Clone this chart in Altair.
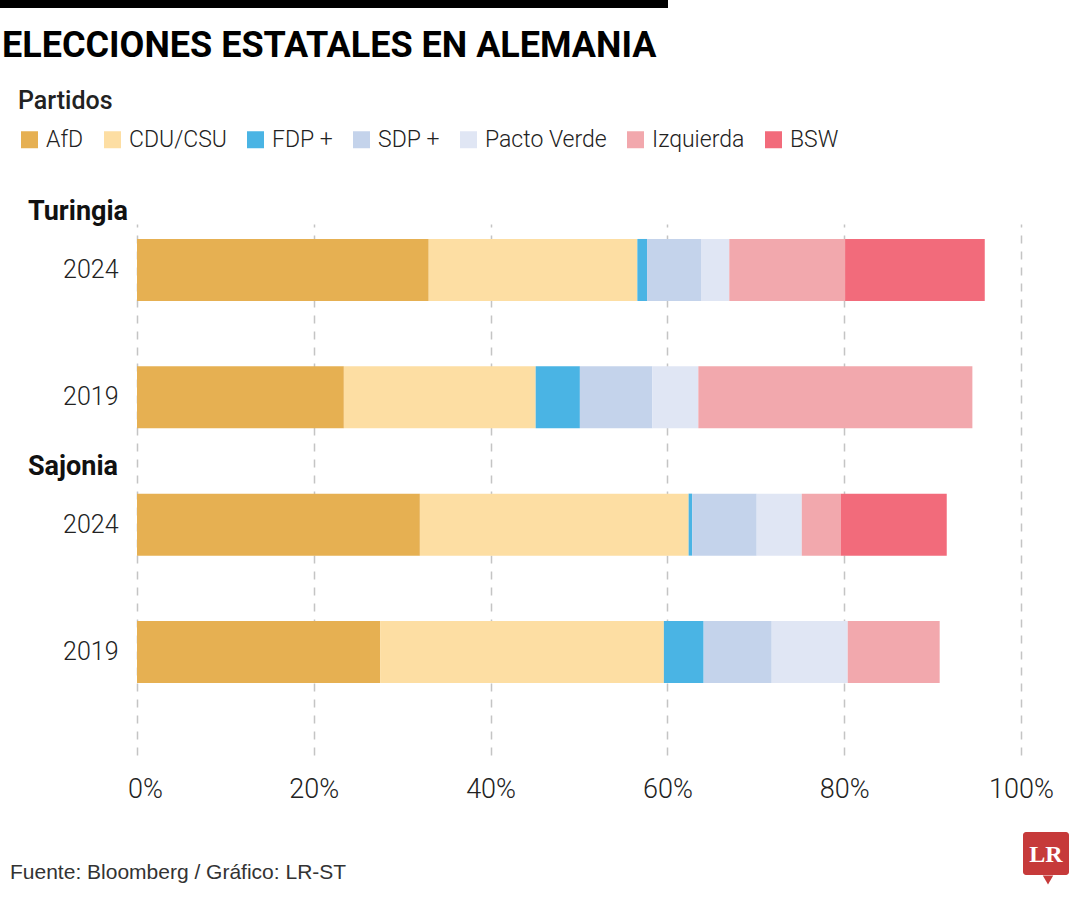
import altair as alt
import pandas as pd

# ---------------- data ----------------
partidos = ["AfD", "CDU/CSU", "FDP +", "SDP +", "Pacto Verde", "Izquierda", "BSW"]
colores = ["#E6B052", "#FDDEA3", "#4AB4E4", "#C4D3EB", "#E0E6F4", "#F2A8AD", "#F26B7B"]
filas = ["Turingia 2024", "Turingia 2019", "Sajonia 2024", "Sajonia 2019"]
turingia_2024 = [33.0, 23.6, 1.1, 6.1, 3.2, 13.1, 15.8]
turingia_2019 = [23.4, 21.7, 5.0, 8.2, 5.2, 31.0, 0.0]
sajonia_2024 = [32.0, 30.4, 0.4, 7.3, 5.1, 4.4, 12.0]
sajonia_2019 = [27.5, 32.1, 4.5, 7.7, 8.6, 10.4, 0.0]
grupos = ["Turingia", "Sajonia"]
grupo_filas = ["Turingia 2024", "Sajonia 2024"]
ticks_x = [0, 20, 40, 60, 80, 100]
titulo = "ELECCIONES ESTATALES EN ALEMANIA"
fuente = "Fuente: Bloomberg / Gráfico: LR-ST"
logo = "LR"

series = [turingia_2024, turingia_2019, sajonia_2024, sajonia_2019]
rows = []
for fila, vals in zip(filas, series):
    for i, (p, v) in enumerate(zip(partidos, vals)):
        if v > 0:
            rows.append({"fila": fila, "partido": p, "valor": v, "orden": i})
df = pd.DataFrame(rows)

FONT = "Roboto"
TXT = "#222222"

bars = alt.Chart(df).mark_bar().encode(
    x=alt.X(
        "valor:Q",
        stack="zero",
        scale=alt.Scale(domain=[0, 100], nice=False),
        axis=alt.Axis(
            values=ticks_x, labelExpr="datum.value + '%'", title=None,
            domain=False, ticks=False, grid=True, gridDash=[8, 8],
            gridColor="#c4c4c4", gridWidth=1.5, labelFont=FONT,
            labelFontSize=27, labelFontWeight=300, labelColor=TXT,
            labelPadding=21, labelFlush=False,
            labelOffset={"condition": {"test": "datum.value === 0", "value": 8}, "value": 0},
        ),
    ),
    y=alt.Y(
        "fila:N",
        sort=filas,
        scale=alt.Scale(domain=filas, paddingInner=0.513, paddingOuter=0.3416, align=0.172),
        axis=alt.Axis(
            title=None, domain=False, ticks=False, grid=False,
            labelExpr="split(datum.label, ' ')[1]", labelFont=FONT,
            labelFontSize=25, labelFontWeight=300, labelColor=TXT,
            labelPadding=19,
        ),
    ),
    color=alt.Color(
        "partido:N",
        scale=alt.Scale(domain=partidos, range=colores),
        legend=alt.Legend(
            title="Partidos", orient="none", legendX=-119, legendY=-135,
            direction="horizontal", titleFont=FONT, titleFontSize=25,
            titleFontWeight=500, titleColor=TXT, titleAnchor="start",
            labelFont=FONT, labelFontSize=23, labelFontWeight=300,
            labelColor=TXT, symbolType="square", symbolSize=289,
            symbolStrokeWidth=0, symbolOpacity=1, columnPadding=17,
            labelOffset=5, titlePadding=14, padding=0,
        ),
    ),
    order=alt.Order("orden:Q"),
)

grupos_df = pd.DataFrame({"grupo": grupos, "fila": grupo_filas})
grp = alt.Chart(grupos_df).mark_text(
    align="left", baseline="alphabetic", dy=-50, font=FONT,
    fontSize=27, fontWeight="bold", color="#111111",
).encode(
    x=alt.value(-109),
    y=alt.Y("fila:N", sort=filas),
    text="grupo:N",
)

tit = alt.Chart(pd.DataFrame({"t": [titulo]})).mark_text(
    align="left", baseline="alphabetic", font=FONT, fontSize=36,
    fontWeight="bold", color="#000000",
).encode(x=alt.value(-135), y=alt.value(-167), text="t:N")

barra = alt.Chart(pd.DataFrame({"a": [0]})).mark_rule(
    strokeWidth=8, color="#000000"
).encode(x=alt.value(-137), x2=alt.value(531), y=alt.value(-220))

src = alt.Chart(pd.DataFrame({"t": [fuente]})).mark_text(
    align="left", baseline="alphabetic", font="Liberation Sans",
    fontSize=21, color="#333333",
).encode(x=alt.value(-127), y=alt.value(655), text="t:N")

logo_box = alt.Chart(pd.DataFrame({"a": [0]})).mark_rect(
    color="#C63A3A", cornerRadius=3
).encode(x=alt.value(886), x2=alt.value(932), y=alt.value(608), y2=alt.value(651))

logo_tail = alt.Chart(pd.DataFrame({"a": [0]})).mark_point(
    shape="triangle-down", filled=True, color="#C63A3A", size=110, opacity=1
).encode(x=alt.value(911), y=alt.value(656))

logo_txt = alt.Chart(pd.DataFrame({"t": [logo]})).mark_text(
    align="center", baseline="middle", font="Liberation Serif",
    fontSize=24, fontWeight="bold", color="#ffffff",
).encode(x=alt.value(909), y=alt.value(631), text="t:N")

chart = alt.layer(
    bars, grp, tit, barra, src, logo_box, logo_tail, logo_txt
).properties(
    width=884,
    height=531,
    padding={"left": 137, "top": 224, "right": 59, "bottom": 145},
    autosize=alt.AutoSizeParams(type="none"),
    background="#ffffff",
).configure_view(stroke=None)

chart.save("out.html", embed_options={"renderer": "svg", "actions": False})
